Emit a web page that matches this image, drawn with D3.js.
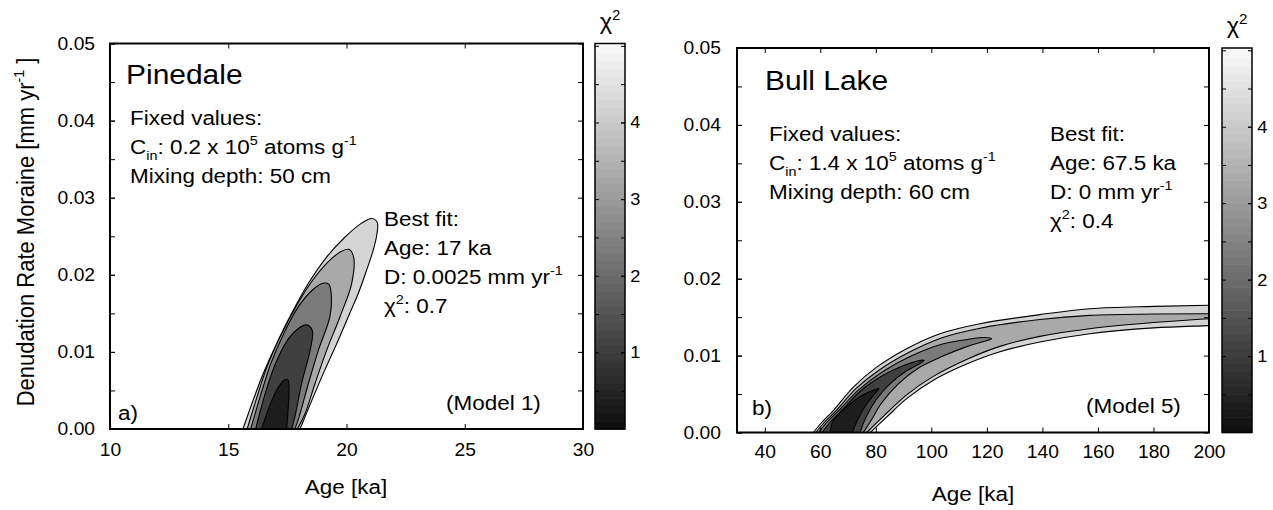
<!DOCTYPE html>
<html>
<head>
<meta charset="utf-8">
<script src="https://cdn.jsdelivr.net/npm/d3@7"></script>
<style>
  body { margin: 0; background: #fff; }
  text { font-family: "Liberation Sans", Arial, Helvetica, sans-serif; white-space: pre; }
</style>
</head>
<body>
<div id="chart"></div>
<script>
// ---- data ----
// chi-square contour outlines, [age ka, denudation mm/yr], outermost level first
const pinedaleLevel1 = [[15.62,0],[16.06,0.0038],[16.48,0.0072],[17.05,0.0111],[17.68,0.0150],[18.39,0.0189],[19.16,0.0223],[19.94,0.0249],[20.64,0.0267],[21.07,0.0273],[21.3,0.0268],[21.28,0.0252],[21.13,0.0232],[20.85,0.0206],[20.5,0.0176],[20.08,0.0146],[19.59,0.0111],[19.09,0.0077],[18.6,0.0042],[18.25,0.0016],[18.03,0]];
const pinedaleLevel2 = [[15.8,0],[16.2,0.0040],[16.63,0.0080],[17.2,0.0120],[17.85,0.0158],[18.5,0.0190],[19.2,0.0216],[19.75,0.0230],[20.1,0.0233],[20.3,0.0223],[20.22,0.0189],[19.73,0.0146],[19.16,0.0102],[18.67,0.0059],[18.25,0.0020],[17.92,0]];
const pinedaleLevel3 = [[15.95,0],[16.35,0.0042],[16.8,0.0085],[17.35,0.0124],[17.95,0.0158],[18.55,0.0180],[19.0,0.0189],[19.25,0.0188],[19.35,0.0176],[19.3,0.0146],[18.81,0.0102],[18.39,0.0059],[18.0,0.0016],[17.82,0]];
const pinedaleLevel4 = [[16.16,0],[16.55,0.0045],[17.0,0.0085],[17.5,0.0115],[17.95,0.0130],[18.3,0.0135],[18.55,0.0128],[18.46,0.0102],[18.1,0.0059],[17.82,0.0016],[17.68,0]];
const pinedaleLevel5 = [[16.41,0],[16.75,0.0030],[17.1,0.0053],[17.35,0.0063],[17.52,0.0064],[17.57,0.0052],[17.53,0.0025],[17.47,0]];

const bullLakeLevel1 = [[57.5,0],[60.5,0.0013],[64.7,0.00286],[71.9,0.0059],[80.3,0.0085],[91.1,0.0109],[103.1,0.01285],[117.5,0.01415],[139.1,0.01533],[157,0.0161],[180,0.0164],[200,0.01654],[215,0.0166],[215,0.0141],[200,0.0139],[180,0.0136],[157,0.01285],[139.1,0.01176],[124.7,0.0105],[112.7,0.0089],[100.7,0.0068],[91.1,0.0044],[83.9,0.0020],[78,0]];
const bullLakeLevel2 = [[58.4,0],[61.4,0.0013],[65.6,0.0028],[72.8,0.0057],[81.1,0.0081],[91.8,0.0104],[103.6,0.0123],[118,0.0136],[139.1,0.0147],[157,0.01523],[180,0.0154],[200,0.01545],[215,0.0155],[215,0.0150],[200,0.0148],[180,0.0143],[157,0.0135],[139.1,0.0125],[124.7,0.0112],[112.7,0.0095],[100.7,0.0073],[91.1,0.0049],[83,0.0022],[76.7,0]];
const bullLakeLevel3 = [[59.3,0],[62.3,0.0013],[66.5,0.0028],[73.7,0.0055],[82,0.0078],[92.5,0.0099],[104,0.0115],[113,0.0121],[119,0.01235],[121.7,0.0122],[119.5,0.0119],[113,0.0112],[104,0.0099],[95,0.0083],[88,0.0063],[82,0.0038],[78.5,0.0017],[75.5,0]];
const bullLakeLevel4 = [[60.6,0],[63.5,0.0013],[67.5,0.0028],[74.5,0.0054],[82.5,0.0074],[90,0.0087],[95,0.0093],[97.4,0.0094],[96,0.0090],[91,0.0080],[85,0.0063],[80,0.0042],[76.5,0.0020],[74.3,0]];
const bullLakeLevel5 = [[63.5,0],[64.7,0.0016],[70.7,0.0037],[75,0.0048],[79,0.0055],[81.1,0.0057],[80,0.0052],[76.5,0.0036],[73.5,0.0017],[71.5,0]];

const pinedaleXTicks = [10, 15, 20, 25, 30];
const bullLakeXTicks = [40, 60, 80, 100, 120, 140, 160, 180, 200];
const yTicks = [0, 0.01, 0.02, 0.03, 0.04, 0.05];
const chiTicks = [1, 2, 3, 4];
const CHI_MAX = 5.03;

// fill greys of the contour bands, outermost first
const levelFills = ["#d4d4d4", "#a9a9a9", "#7b7b7b", "#404040", "#1d1d1d"];
const SX = 1.07; // figure text is slightly wide

const W = 1273, H = 510;
const svg = d3.select("#chart").append("svg")
  .attr("width", W)
  .attr("height", H)
  .style("display", "block");

// text with sub/superscript parts: "plain" or ["txt", "sup"|"sub"]
function label(x, y, parts, size, opts = {}) {
  const t = svg.append("text")
    .attr("transform", `translate(${x},${y}) scale(${SX},1)` + (opts.rotate ? ` rotate(${opts.rotate})` : ""))
    .attr("font-size", size)
    .attr("text-anchor", opts.anchor || "start")
    .attr("fill", "#000");
  let shift = 0;
  (typeof parts === "string" ? [parts] : parts).forEach(p => {
    const txt = typeof p === "string" ? p : p[0];
    const kind = typeof p === "string" ? null : p[1];
    const off = kind === "sup" ? -size * 0.42 : kind === "sub" ? size * 0.3 : 0;
    t.append("tspan")
      .attr("dy", off - shift)
      .attr("font-size", kind ? size * 0.64 : size)
      .text(txt);
    shift = off;
  });
  return t;
}

function styleTicks(g, size) {
  g.select(".domain").remove();
  g.attr("font-family", null).attr("font-size", size);
  g.selectAll(".tick text").attr("fill", "#000").attr("transform", `scale(${SX},1)`);
  g.selectAll(".tick line").attr("stroke", "#000");
}

function drawPanel(p) {
  const x = d3.scaleLinear().domain(p.xDomain).range([p.left, p.right]);
  const y = d3.scaleLinear().domain([0, 0.05]).range([p.bottom, p.top]);

  svg.append("clipPath").attr("id", "clip-" + p.id)
    .append("rect")
    .attr("x", p.left).attr("y", p.top)
    .attr("width", p.right - p.left).attr("height", p.bottom - p.top);

  const line = d3.line()
    .x(d => x(d[0]))
    .y(d => y(d[1]))
    .curve(d3.curveCatmullRom.alpha(0.5));

  svg.append("g")
    .attr("clip-path", `url(#clip-${p.id})`)
    .selectAll("path")
    .data(p.contours)
    .join("path")
    .attr("d", d => line(d) + "Z")
    .attr("fill", (d, i) => levelFills[i])
    .attr("stroke", "#000")
    .attr("stroke-width", 1.1);

  // axes, ticks pointing inward on all four sides
  const minorY = d3.range(0, 0.0501, 0.005);
  svg.append("g").attr("transform", `translate(0,${p.bottom})`)
    .call(d3.axisBottom(x).tickValues(p.xTicks).tickSize(-5).tickPadding(p.xPad).tickFormat(d3.format("d")))
    .call(g => styleTicks(g, 18));
  svg.append("g").attr("transform", `translate(0,${p.top})`)
    .call(d3.axisTop(x).tickValues(p.xTicks).tickSize(-5).tickFormat(""))
    .call(g => styleTicks(g, 18));
  svg.append("g").attr("transform", `translate(${p.left},0)`)
    .call(d3.axisLeft(y).tickValues(yTicks).tickSize(-5).tickPadding(p.yPad).tickFormat(d3.format(".2f")))
    .call(g => styleTicks(g, 18));
  svg.append("g").attr("transform", `translate(${p.left},0)`)
    .call(d3.axisLeft(y).tickValues(minorY).tickSize(-5).tickFormat(""))
    .call(g => styleTicks(g, 18));
  svg.append("g").attr("transform", `translate(${p.right},0)`)
    .call(d3.axisRight(y).tickValues(minorY).tickSize(-5).tickFormat(""))
    .call(g => styleTicks(g, 18));

  svg.append("rect")
    .attr("x", p.left).attr("y", p.top)
    .attr("width", p.right - p.left).attr("height", p.bottom - p.top)
    .attr("fill", "none").attr("stroke", "#000").attr("stroke-width", 2);

  // colour bar
  const cy = d3.scaleLinear().domain([0, CHI_MAX]).range([p.bottom, p.top]);
  const grey = d3.scaleLinear().domain([0, CHI_MAX]).range(["#0d0d0d", "#fafafa"]);
  const step = 0.1;
  svg.append("g").selectAll("rect")
    .data(d3.range(0, CHI_MAX, step))
    .join("rect")
    .attr("x", p.cbLeft)
    .attr("width", p.cbRight - p.cbLeft)
    .attr("y", d => cy(Math.min(d + step, CHI_MAX)))
    .attr("height", d => cy(d) - cy(Math.min(d + step, CHI_MAX)) + 0.6)
    .attr("fill", d => grey(d + step / 2));

  const chiMinor = d3.range(0.5, CHI_MAX, 0.5);
  svg.append("g").attr("transform", `translate(${p.cbLeft},0)`)
    .call(d3.axisLeft(cy).tickValues(chiMinor).tickSize(-4).tickFormat(""))
    .call(g => styleTicks(g, 17));
  svg.append("g").attr("transform", `translate(${p.cbRight},0)`)
    .call(d3.axisRight(cy).tickValues(chiMinor).tickSize(-4).tickFormat(""))
    .call(g => styleTicks(g, 17));
  svg.append("g").attr("transform", `translate(${p.cbRight},0)`)
    .call(d3.axisRight(cy).tickValues(chiTicks).tickSize(-4).tickPadding(5).tickFormat(d3.format("d")))
    .call(g => styleTicks(g, 17));

  svg.append("rect")
    .attr("x", p.cbLeft).attr("y", p.top)
    .attr("width", p.cbRight - p.cbLeft).attr("height", p.bottom - p.top)
    .attr("fill", "none").attr("stroke", "#000").attr("stroke-width", 1.5);

  label((p.cbLeft + p.cbRight) / 2, p.chiY, ["\u03c7", ["2", "sup"]], 22, { anchor: "middle" });
}

// ---- panel a) Pinedale ----
drawPanel({
  id: "a", left: 110, right: 583, top: 43.5, bottom: 429,
  cbLeft: 595, cbRight: 625, chiY: 29,
  xDomain: [10, 30], xTicks: pinedaleXTicks, xPad: 14, yPad: 14,
  contours: [pinedaleLevel1, pinedaleLevel2, pinedaleLevel3, pinedaleLevel4, pinedaleLevel5]
});

// ---- panel b) Bull Lake ----
drawPanel({
  id: "b", left: 737, right: 1209, top: 48, bottom: 432.5,
  cbLeft: 1222, cbRight: 1252, chiY: 33,
  xDomain: [30, 200], xTicks: bullLakeXTicks, xPad: 13, yPad: 15,
  contours: [bullLakeLevel1, bullLakeLevel2, bullLakeLevel3, bullLakeLevel4, bullLakeLevel5]
});

// ---- annotations ----
label(34, 232, ["Denudation Rate Moraine [mm yr", ["-1", "sup"], " ]"], 22, { anchor: "middle", rotate: -90 });

label(126, 84, "Pinedale", 28);
label(130, 125, "Fixed values:", 21);
label(130, 154, ["C", ["in", "sub"], ": 0.2 x 10", ["5", "sup"], " atoms g", ["-1", "sup"]], 21);
label(130, 183, "Mixing depth: 50 cm", 21);
label(384, 226, "Best fit:", 21);
label(384, 255, "Age: 17 ka", 21);
label(384, 284, ["D: 0.0025 mm yr", ["-1", "sup"]], 21);
label(384, 313, ["\u03c7", ["2", "sup"], ": 0.7"], 21);
label(446, 410, "(Model 1)", 21);
label(118, 420, "a)", 21);
label(346, 494, "Age [ka]", 21, { anchor: "middle" });

label(765, 90, "Bull Lake", 28);
label(769, 141, "Fixed values:", 21);
label(769, 170, ["C", ["in", "sub"], ": 1.4 x 10", ["5", "sup"], " atoms g", ["-1", "sup"]], 21);
label(769, 199, "Mixing depth: 60 cm", 21);
label(1050, 141, "Best fit:", 21);
label(1050, 170, "Age: 67.5 ka", 21);
label(1050, 199, ["D: 0 mm yr", ["-1", "sup"]], 21);
label(1050, 228, ["\u03c7", ["2", "sup"], ": 0.4"], 21);
label(1086, 413, "(Model 5)", 21);
label(752, 415, "b)", 21);
label(973, 501, "Age [ka]", 21, { anchor: "middle" });
</script>
</body>
</html>
